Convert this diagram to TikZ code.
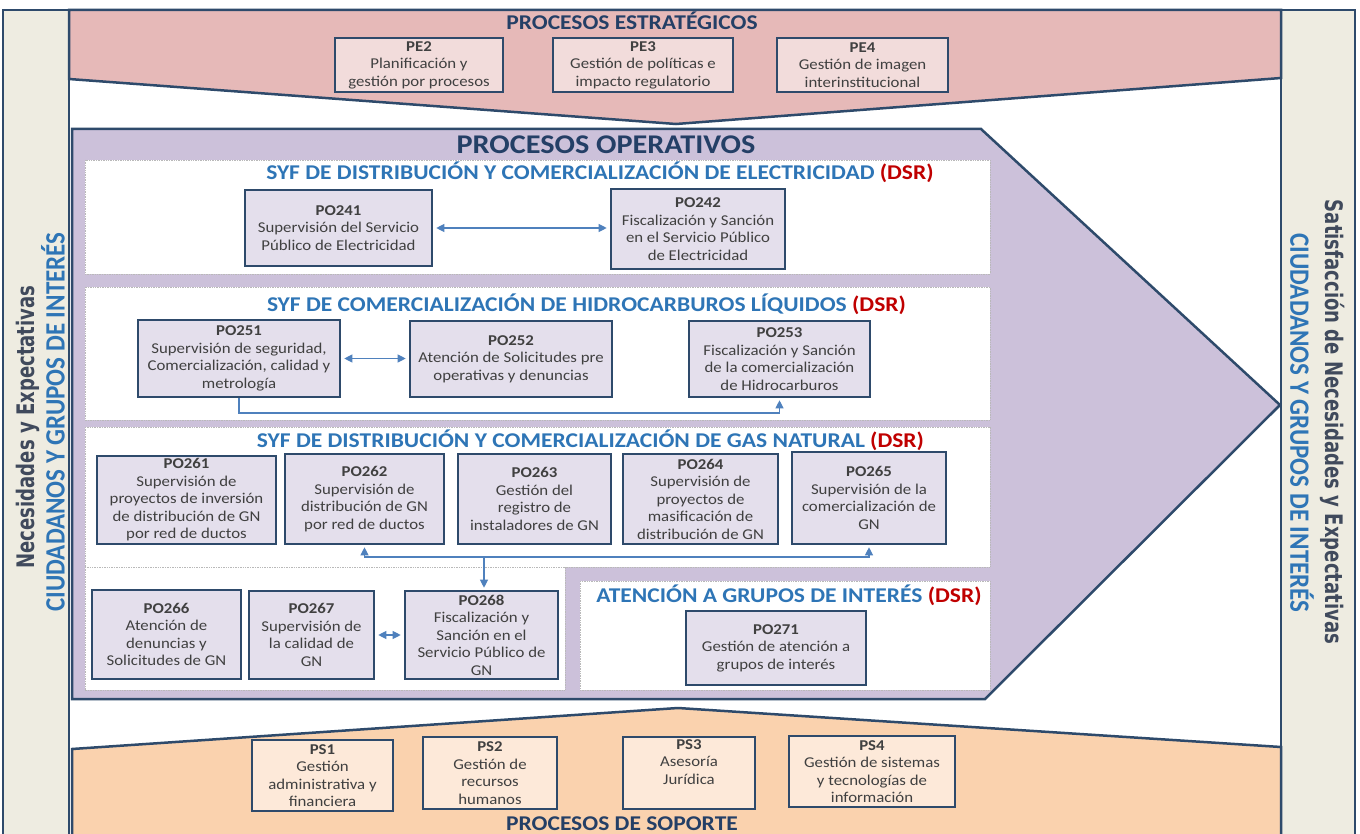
\documentclass[tikz,border=0pt]{standalone}
\usepackage{fontspec}
\setmainfont{Carlito}[FakeStretch=1.12]
\newfontfamily\cfr{Carlito}
\newfontfamily\sidefont{DejaVu Sans}[FakeStretch=0.86]
\usetikzlibrary{arrows.meta}
\definecolor{frame}{HTML}{2E4A6B}
\definecolor{barfill}{HTML}{EEECE1}
\definecolor{pinkfill}{HTML}{E6B9B8}
\definecolor{purplefill}{HTML}{CCC1DA}
\definecolor{peachfill}{HTML}{FAD2AE}
\definecolor{pefill}{HTML}{F2DCDB}
\definecolor{pofill}{HTML}{E4DFEC}
\definecolor{psfill}{HTML}{FDE9D9}
\definecolor{txt}{HTML}{404040}
\definecolor{secblue}{HTML}{2E75B6}
\definecolor{dsr}{HTML}{C00000}
\definecolor{navy}{HTML}{243F66}
\definecolor{sidegray}{HTML}{404A5C}
\definecolor{arrc}{HTML}{4F81BD}
\tikzset{
  bx/.style={draw=frame, line width=2.6pt, align=center, text=txt, inner sep=0pt,
    font=\fontsize{15}{17.5}\selectfont},
  pe/.style={bx, fill=pefill},
  po/.style={bx, fill=pofill},
  ps/.style={bx, fill=psfill},
  panel/.style={draw=gray!55, densely dotted, fill=white, line width=0.7pt},
  sect/.style={font=\fontsize{21}{24}\selectfont\bfseries, text=secblue, inner sep=0pt},
  maintitle/.style={font=\fontsize{27}{30}\selectfont\bfseries, text=navy, inner sep=0pt},
  subtitle/.style={font=\fontsize{21}{24}\selectfont\bfseries, text=navy, inner sep=0pt},
  shape line/.style={draw=frame, line width=2.5pt, line join=miter},
  sidetext/.style={font=\sidefont\bfseries\fontsize{21}{24}\selectfont, text=sidegray, inner sep=0pt},
  ciutext/.style={font=\cfr\bfseries\fontsize{25}{28}\selectfont, text=secblue, inner sep=0pt},
  arr/.style={draw=arrc, line width=1.1pt, -{Triangle[length=8pt,width=8pt]}, shorten >=2pt},
  darr/.style={draw=arrc, line width=1.1pt, {Triangle[length=8pt,width=8pt]}-{Triangle[length=8pt,width=8pt]},
    shorten >=3pt, shorten <=3pt},
}
\begin{document}
\begin{tikzpicture}[x=1pt,y=-1pt]
\useasboundingbox (0,0) rectangle (1360,834);
\clip (0,0) rectangle (1360,834);
\fill[white] (0,0) rectangle (1360,834);

% side bars
\draw[shape line, fill=barfill] (3,10) rectangle (69,850);
\draw[shape line, fill=barfill] (1281,10) rectangle (1355,850);

% strategic (pink)
\draw[shape line, fill=pinkfill] (69,10) -- (1281,10) -- (1281,78) -- (676,124) -- (69,79) -- cycle;
% operative (purple arrow)
\draw[shape line, fill=purplefill] (72,129) -- (981,129) -- (1280,405) -- (985,699) -- (72,699) -- cycle;
% support (peach)
\draw[shape line, fill=peachfill] (72,749) -- (678,708) -- (1281,747) -- (1281,850) -- (72,850) -- cycle;

% side texts
\node[sidetext, rotate=90] (lneed) at (28,427) {\scalebox{1}[1.15]{Necesidades y Expectativas}};
\node[ciutext, rotate=90] (lciu) at (53,422) {\scalebox{1}[1.12]{CIUDADANOS Y GRUPOS DE INTERÉS}};
\node[sidetext, rotate=-90] (rsat) at (1333,422) {\scalebox{1}[1.15]{Satisfacción de Necesidades y Expectativas}};
\node[ciutext, rotate=-90] (rciu) at (1302,423) {\scalebox{1}[1.12]{CIUDADANOS Y GRUPOS DE INTERÉS}};

% titles
\node[subtitle] (tpe) at (632,21) {PROCESOS ESTRATÉGICOS};
\node[maintitle] (tpo) at (606,145) {PROCESOS OPERATIVOS};
\node[subtitle] (tps) at (622,824) {PROCESOS DE SOPORTE};

% strategic boxes
\node[pe, minimum width=168pt, minimum height=54pt] (pe2) at (419,65) {\textbf{PE2}\\Planificación y\\gestión por procesos};
\node[pe, minimum width=180pt, minimum height=54pt] (pe3) at (643,65) {\textbf{PE3}\\Gestión de políticas e\\impacto regulatorio};
\node[pe, minimum width=171pt, minimum height=54pt] (pe4) at (862.5,65) {\textbf{PE4}\\Gestión de imagen\\interinstitucional};

% panels
\draw[panel] (85,160) rectangle (990,274);
\draw[panel] (85,287) rectangle (990,420);
\draw[panel] (85,427) rectangle (990,567);
\draw[panel] (85,567) rectangle (565,690);
\draw[panel] (580,581) rectangle (990,690);

% section titles
\node[sect] (te) at (600,172.5) {SYF DE DISTRIBUCIÓN Y COMERCIALIZACIÓN DE ELECTRICIDAD \textcolor{dsr}{(DSR)}};
\node[sect] (th) at (586.5,304) {SYF DE COMERCIALIZACIÓN DE HIDROCARBUROS LÍQUIDOS \textcolor{dsr}{(DSR)}};
\node[sect] (tg) at (590.5,440) {SYF DE DISTRIBUCIÓN Y COMERCIALIZACIÓN DE GAS NATURAL \textcolor{dsr}{(DSR)}};
\node[sect] (ta) at (789,595) {ATENCIÓN A GRUPOS DE INTERÉS \textcolor{dsr}{(DSR)}};

% electricity
\node[po, minimum width=187pt, minimum height=76pt] (po241) at (338.5,228) {\textbf{PO241}\\Supervisión del Servicio\\Público de Electricidad};
\node[po, minimum width=174pt, minimum height=80pt] (po242) at (698,229) {\textbf{PO242}\\Fiscalización y Sanción\\en el Servicio Público\\de Electricidad};

% hydrocarbons
\node[po, minimum width=202pt, minimum height=77pt] (po251) at (239,358.5) {\textbf{PO251}\\Supervisión de seguridad,\\Comercialización, calidad y\\metrología};
\node[po, minimum width=202pt, minimum height=76pt] (po252) at (511,359) {\textbf{PO252}\\Atención de Solicitudes pre\\operativas y denuncias};
\node[po, minimum width=181pt, minimum height=76pt] (po253) at (779.5,359) {\textbf{PO253}\\Fiscalización y Sanción\\de la comercialización\\de Hidrocarburos};

% gas
\node[po, minimum width=179pt, minimum height=88pt] (po261) at (186.5,500) {\textbf{PO261}\\Supervisión de\\proyectos de inversión\\de distribución de GN\\por red de ductos};
\node[po, minimum width=159pt, minimum height=90pt] (po262) at (364.5,499) {\textbf{PO262}\\Supervisión de\\distribución de GN\\por red de ductos};
\node[po, minimum width=153pt, minimum height=90pt] (po263) at (534.5,499) {\textbf{PO263}\\Gestión del\\registro de\\instaladores de GN};
\node[po, minimum width=155pt, minimum height=90pt] (po264) at (700.5,499) {\textbf{PO264}\\Supervisión de\\proyectos de\\masificación de\\distribución de GN};
\node[po, minimum width=154pt, minimum height=92pt] (po265) at (869,498) {\textbf{PO265}\\Supervisión de la\\comercialización de\\GN};
\node[po, minimum width=149pt, minimum height=89pt] (po266) at (166.5,634.5) {\textbf{PO266}\\Atención de\\denuncias y\\Solicitudes de GN};
\node[po, minimum width=125pt, minimum height=88pt] (po267) at (311.5,635) {\textbf{PO267}\\Supervisión de\\la calidad de\\GN};
\node[po, minimum width=153pt, minimum height=88pt] (po268) at (481.5,635) {\textbf{PO268}\\Fiscalización y\\Sanción en el\\Servicio Público de\\GN};

% attention
\node[po, minimum width=180pt, minimum height=74pt] (po271) at (776,648) {\textbf{PO271}\\Gestión de atención a\\grupos de interés};

% support boxes
\node[ps, minimum width=141pt, minimum height=71pt] (ps1) at (322.5,775.5) {\textbf{PS1}\\Gestión\\administrativa y\\financiera};
\node[ps, minimum width=134pt, minimum height=72pt] (ps2) at (490,773) {\textbf{PS2}\\Gestión de\\recursos\\humanos};
\node[ps, minimum width=132pt, minimum height=72pt] (ps3) at (689,773) {\textbf{PS3}\\Asesoría\\Jurídica\\\strut};
\node[ps, minimum width=166pt, minimum height=71pt] (ps4) at (872,771.5) {\textbf{PS4}\\Gestión de sistemas\\y tecnologías de\\información};

% connectors
\draw[darr] (po241.east) -- (po241.east -| po242.west);
\draw[darr] (po251.east) -- (po251.east -| po252.west);
\coordinate (hc) at (500,413);
\draw[arr] (po251.south) |- (hc) -| (po253.south);
\coordinate (J) at (484,557);
\draw[arr] (J) -| (po262.south);
\draw[arr] (J) -| (po265.south);
\draw[arr] (J) -- (J |- po268.north);
\draw[darr] (po267.east) -- (po267.east -| po268.west);
\end{tikzpicture}
\end{document}
